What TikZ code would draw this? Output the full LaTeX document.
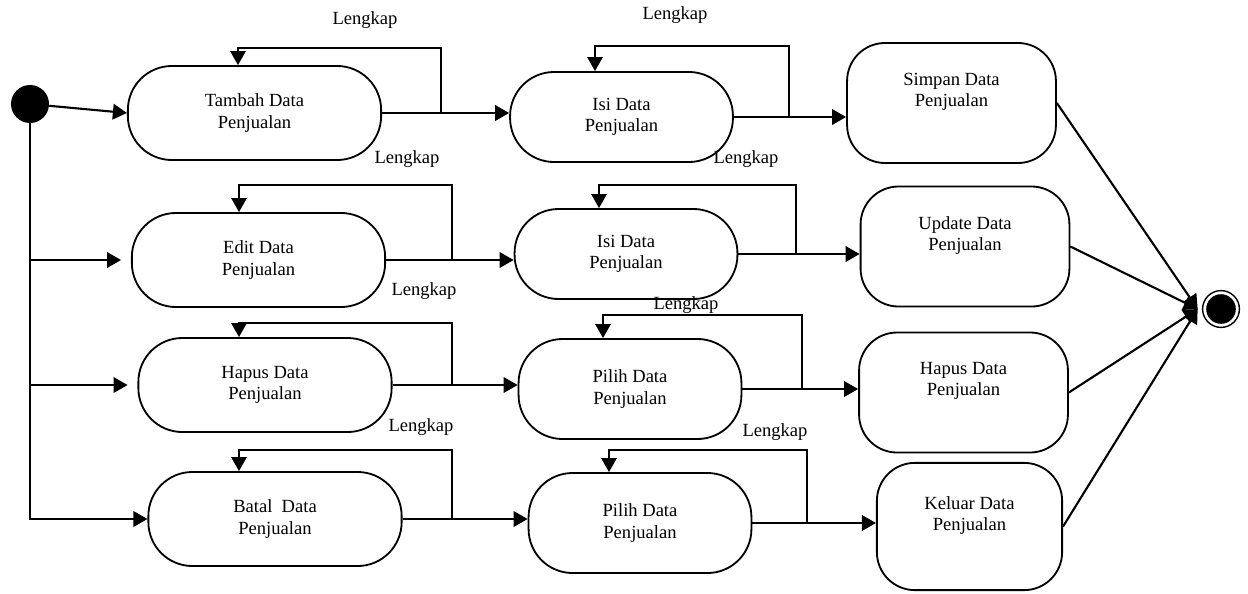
\documentclass[tikz,border=0pt]{standalone}
\usepackage{fontspec}
\setmainfont{Liberation Serif}
\usetikzlibrary{arrows.meta}

\begin{document}
\begin{tikzpicture}[x=0.025cm,y=-0.025cm,>={Triangle[length=10pt,width=11pt]},
	aksi/.style={draw,line width=1.3pt,rounded corners=1.1cm,align=center,
		font=\fontsize{13.2}{15}\selectfont},
	kol1/.style={aksi,minimum width=6.33cm,minimum height=2.35cm},
	kol2/.style={aksi,minimum width=5.57cm,minimum height=2.25cm},
	kol3/.style={aksi,rounded corners=0.95cm,minimum width=5.22cm,minimum height=3cm},
	teks/.style={align=center,font=\fontsize{13.2}{15}\selectfont,yshift=8pt},
	ket/.style={font=\fontsize{13.2}{15}\selectfont},
	awal/.style={circle,fill=black,minimum size=0.95cm,inner sep=0pt},
	akhir/.style={circle,draw,line width=1pt,minimum size=0.92cm,inner sep=0pt,
		path picture={\fill (path picture bounding box.center) circle (0.37cm);}},
	alur/.style={->,line width=1.5pt},
	balik/.style={->,line width=1.1pt}]

\useasboundingbox (0,0) rectangle (1248,593);

\node [awal] (awal) at (30,104) {};
\node [akhir] (akhir) at (1221,309) {};

\node [kol1] (tambah) at (254.5,113) {Tambah Data\\Penjualan};
\node [kol1] (edit)   at (258.5,260) {Edit Data\\Penjualan};
\node [kol1] (hapus)  at (265,385)   {Hapus Data\\Penjualan};
\node [kol1] (batal)  at (275,519)   {Batal~~Data\\Penjualan};

\node [kol2] (isiA)   at (621.5,117) {Isi Data\\Penjualan};
\node [kol2] (isiB)   at (626,254)   {Isi Data\\Penjualan};
\node [kol2,minimum height=2.5cm] (pilihA) at (630,389) {Pilih Data\\Penjualan};
\node [kol2,minimum height=2.5cm] (pilihB) at (640,523) {Pilih Data\\Penjualan};

\node [kol3,label={[teks]center:Simpan Data\\Penjualan}] (simpan) at (951.5,103) {};
\node [kol3,label={[teks]center:Update Data\\Penjualan}] (update) at (965,246.5) {};
\node [kol3,label={[teks]center:Hapus Data\\Penjualan}]  (hapus2) at (963.5,392.5) {};
\node [kol3,minimum width=4.63cm,minimum height=3.18cm,
	label={[teks]center:Keluar Data\\Penjualan}] (keluar) at (969.5,526.5) {};

%%%%%%%%%%%%%%%%%%%%%%%%%%%%%%%%%%%%%%%%%%

\draw [alur] (awal) to (tambah.west);
\draw [alur] (awal) to (awal |- batal.west) to (batal.west);
\draw [alur,shorten >=7pt] (awal |- edit.west) to (edit.west);
\draw [alur,shorten >=7pt] (awal |- hapus.west) to (hapus.west);

\draw [alur] (tambah.east) to (tambah.east -| isiA.west);
\draw [alur] (edit.east)   to (edit.east -| isiB.west);
\draw [alur] (hapus.east)  to (hapus.east -| pilihA.west);
\draw [alur] (batal.east)  to (batal.east -| pilihB.west);

\draw [alur] (isiA.east)   to (isiA.east -| simpan.west);
\draw [alur] (isiB.east)   to (isiB.east -| update.west);
\draw [alur] (pilihA.east) to (pilihA.east -| hapus2.west);
\draw [alur] (pilihB.east) to (pilihB.east -| keluar.west);

\draw [alur] (simpan.east) to ([xshift=-3pt]akhir.west);
\draw [alur] (update.east) to ([xshift=-3pt]akhir.west);
\draw [alur] (hapus2.east) to ([xshift=-3pt]akhir.west);
\draw [alur] (keluar.east) to ([xshift=-3pt]akhir.west);

%%%%%%%%%%%%%%%%%%%%%%%%%%%%%%%%%%%%%%%%%%

\draw [balik] (tambah.east -| 441,0) |- (238,48)  to (tambah.north -| 238,0);
\draw [balik] (edit.east -| 452,0)   |- (239,185) to (edit.north -| 239,0);
\draw [balik] (hapus.east -| 452,0)  |- (239,323) to (hapus.north -| 239,0);
\draw [balik] (batal.east -| 452,0)  |- (239,450) to (batal.north -| 239,0);

\draw [balik] (isiA.east -| 789,0)   |- (595,46)  to (isiA.north -| 595,0);
\draw [balik] (isiB.east -| 796,0)   |- (599,185) to (isiB.north -| 599,0);
\draw [balik] (pilihA.east -| 802,0) |- (603,315) to (pilihA.north -| 603,0);
\draw [balik] (pilihB.east -| 807,0) |- (609,450) to (pilihB.north -| 609,0);

\node [ket] (lk1) at (365,20)  {Lengkap};
\node [ket] (lk2) at (407,159) {Lengkap};
\node [ket] (lk3) at (424,291) {Lengkap};
\node [ket] (lk4) at (421,427) {Lengkap};
\node [ket] (lk5) at (675,15)  {Lengkap};
\node [ket] (lk6) at (746,159) {Lengkap};
\node [ket] (lk7) at (686,305) {Lengkap};
\node [ket] (lk8) at (775,432) {Lengkap};

\end{tikzpicture}
\end{document}
